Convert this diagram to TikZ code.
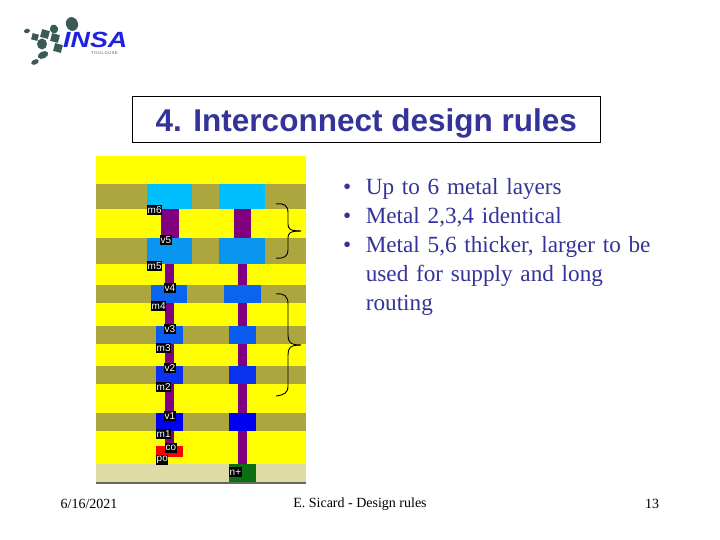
\documentclass[tikz,border=0pt]{standalone}
\usepackage{fontspec}
\setmainfont{Liberation Serif}
\newfontfamily\titlefont{Liberation Sans}
\usetikzlibrary{positioning}
\definecolor{bandy}{HTML}{FFFF00}
\definecolor{bando}{HTML}{ADA63F}
\definecolor{sub}{HTML}{DEDCA4}
\definecolor{msix}{HTML}{00BFFF}
\definecolor{mfive}{HTML}{0A96F0}
\definecolor{mfour}{HTML}{0A64F0}
\definecolor{mthree}{HTML}{0A5CF0}
\definecolor{mtwo}{HTML}{0A30F0}
\definecolor{mone}{HTML}{0000F0}
\definecolor{viac}{HTML}{800080}
\definecolor{polyc}{HTML}{FF0000}
\definecolor{nplus}{HTML}{0A7010}
\definecolor{logod}{HTML}{3A5A58}
\definecolor{logob}{HTML}{1E22E0}
\definecolor{inkc}{HTML}{333399}
\tikzset{
  layerlab/.style={fill=black,text=white,font=\titlefont\fontsize{10}{10}\selectfont,inner sep=0.5pt,minimum height=10pt,anchor=north west},
  bullettext/.style={anchor=north west,font=\fontsize{23.2}{29}\selectfont,inner sep=0pt,align=left,text width=320pt,text=inkc},
  foot/.style={font=\fontsize{14}{14}\selectfont,inner sep=0pt}
}
\begin{document}
\begin{tikzpicture}[x=1pt,y=-1pt]
  \useasboundingbox (0,0) rectangle (720,540);
  % bands
  \fill[bandy] (96,156) rectangle (306,464);
  \foreach \ya/\yb in {184/209,238/264,285/303,326/344,366/384,413/431}
    \fill[bando] (96,\ya) rectangle (306,\yb);
  \fill[sub] (96,464) rectangle (306,482);
  \fill[black!60] (96,482) rectangle (306,483.5);
  % vias
  \foreach \xa/\xb in {161/179,234/251}
    \fill[viac] (\xa,209) rectangle (\xb,238);
  \fill[viac] (165,264) rectangle (174,450);
  \fill[viac] (238,264) rectangle (247,464);
  % metals
  \foreach \cc/\ya/\yb/\xa/\xb/\xc/\xd in {msix/184/209/147/192/219/265,mfive/238/264/147/192/219/265,mfour/285/303/151/187/224/261,mthree/326/344/156/183/229/256,mtwo/366/384/156/183/229/256,mone/413/431/156/183/229/256}{
    \fill[\cc] (\xa,\ya) rectangle (\xb,\yb);
    \fill[\cc] (\xc,\ya) rectangle (\xd,\yb);
  }
  \fill[polyc] (156,446) rectangle (183,457);
  \fill[nplus] (229,464) rectangle (256,482);
  % labels
  \node[layerlab] (lm6) at (147,205) {m6};
  \node[layerlab] (lv5) at (160,234.5) {v5};
  \node[layerlab] (lm5) at (147,261) {m5};
  \node[layerlab] (lv4) at (164,283) {v4};
  \node[layerlab] (lm4) at (151,300.5) {m4};
  \node[layerlab] (lv3) at (164,324) {v3};
  \node[layerlab] (lm3) at (156,342.5) {m3};
  \node[layerlab] (lv2) at (164,363) {v2};
  \node[layerlab] (lm2) at (156,381.5) {m2};
  \node[layerlab] (lv1) at (164,411) {v1};
  \node[layerlab] (lm1) at (156,429) {m1};
  \node[layerlab] (lco) at (165,443) {co};
  \node[layerlab] (lpo) at (156,455) {po};
  \node[layerlab] (lnp) at (229,467) {n+};
  % braces
  \draw[black,line width=0.9pt] (276,204) .. controls (284,203) and (288,205) .. (288,213) -- (288,224) .. controls (288,229) and (290,231) .. (301,231);
  \draw[black,line width=0.9pt] (276,258) .. controls (284,259) and (288,256) .. (288,250) -- (288,238) .. controls (288,233) and (290,231) .. (301,231);
  \draw[black,line width=0.9pt] (276,294) .. controls (284,293) and (288,296) .. (288,304) -- (288,335) .. controls (288,342) and (290,345) .. (301,345);
  \draw[black,line width=0.9pt] (276,396) .. controls (284,395) and (288,393) .. (288,386) -- (288,355) .. controls (288,348) and (290,345) .. (301,345);
  % title
  \node[draw=black,fill=white,minimum width=468pt,text height=35pt,text depth=11pt,inner xsep=0pt,inner ysep=0pt,font=\titlefont\bfseries\fontsize{31.5}{32}\selectfont,text=inkc,anchor=north west] (title) at (132,96) {4. Interconnect design rules};
  % text
  \node[bullettext] (bul) at (341,178) {\hspace{2pt}\textbullet\hspace{14.5pt}Up to 6 metal layers\\
    \hspace{2pt}\textbullet\hspace{14.5pt}Metal 2,3,4 identical\\
    \hspace{2pt}\textbullet\hspace{14.5pt}Metal 5,6 thicker, larger to be\\
    \hspace{2pt}\hphantom{\textbullet}\hspace{14.5pt}used for supply and long\\
    \hspace{2pt}\hphantom{\textbullet}\hspace{14.5pt}routing};
  \node[foot] (date) at (89,504) {6/16/2021};
  \node[foot] (auth) at (360,504) {E. Sicard - Design rules};
  \node[foot] (num) at (652,504) {13};
  % logo
  \foreach \px/\py/\rx/\ry/\rr in {72/24/6/7/20,54/29/4/4.5/20,27/31/3/2.2/15,42/44/5/5.5/0,43/55/5.5/3.5/25,35/62/4/2.5/25}
    \fill[logod] (\px,\py) ellipse[x radius=\rx pt,y radius=\ry pt,rotate=\rr];
  \foreach \px/\py/\hs in {45/34/4,35/37/3.2,55/38/4,58/48/4}
    \fill[logod,rotate around={-15:(\px,\py)}] (\px-\hs,\py-\hs) rectangle (\px+\hs,\py+\hs);
  \node[font=\titlefont\bfseries\itshape\fontsize{22}{22}\selectfont,text=logob,inner sep=0pt,xscale=1.22,anchor=west] (insa) at (63,40) {INSA};
  \node[font=\titlefont\fontsize{4}{4}\selectfont,text=black!70,inner sep=0pt,anchor=west] (toul) at (91,53.5) {T\,O\,U\,L\,O\,U\,S\,E};
\end{tikzpicture}
\end{document}
